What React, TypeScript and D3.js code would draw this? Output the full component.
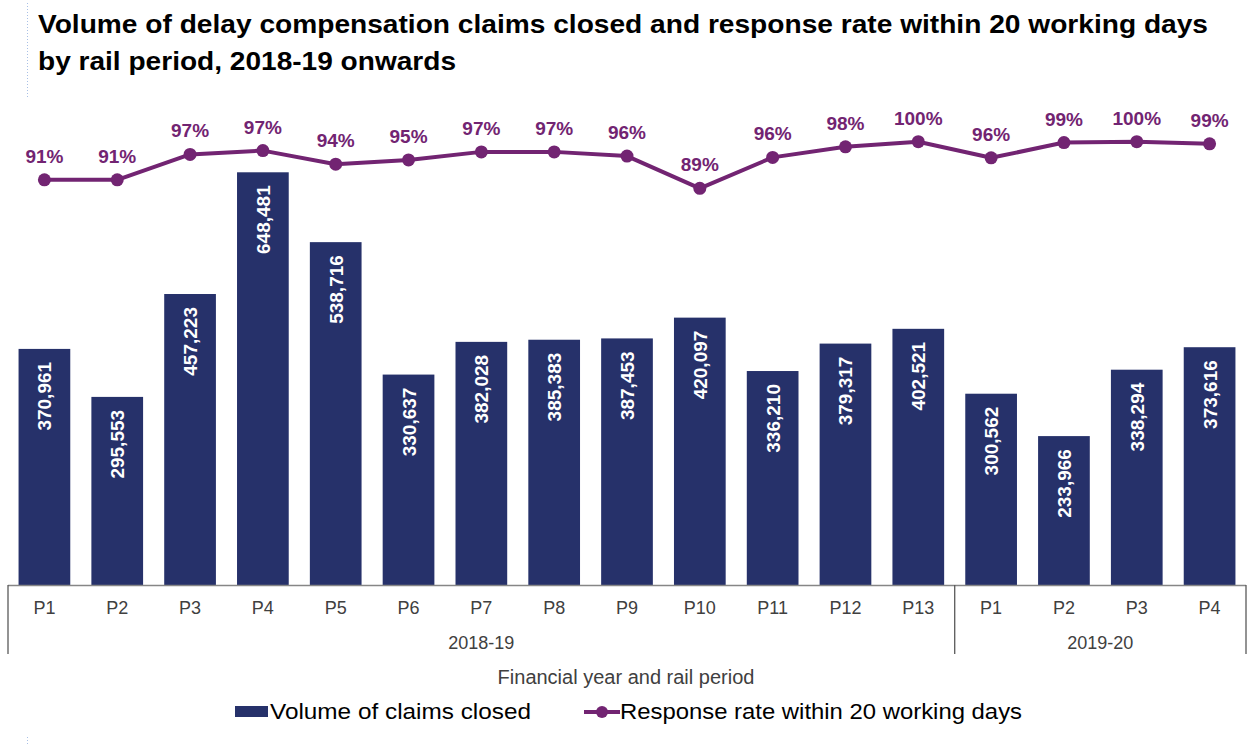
import React, { useEffect, useRef } from 'react'
import * as d3 from 'd3'

// rail periods, grouped by financial year
const periods = ['P1', 'P2', 'P3', 'P4', 'P5', 'P6', 'P7', 'P8', 'P9', 'P10', 'P11', 'P12', 'P13', 'P1', 'P2', 'P3', 'P4']
const years = ['2018-19', '2018-19', '2018-19', '2018-19', '2018-19', '2018-19', '2018-19', '2018-19', '2018-19', '2018-19', '2018-19', '2018-19', '2018-19', '2019-20', '2019-20', '2019-20', '2019-20']
const claimsClosed = [370961, 295553, 457223, 648481, 538716, 330637, 382028, 385383, 387453, 420097, 336210, 379317, 402521, 300562, 233966, 338294, 373616]
const responseRate = [91.0, 91.0, 97.0, 97.9, 94.7, 95.7, 97.6, 97.6, 96.6, 89.0, 96.3, 98.8, 100, 96.2, 99.8, 100, 99.5]

const W = 1248
const H = 746
const BAR = '#26316a'
const LINE = '#722472'
const FONT = '"Liberation Sans", Arial, sans-serif'

const App = () => {
  const svgRef = useRef<SVGSVGElement>(null)

  useEffect(() => {
    document.body.style.margin = '0'
    const svg = d3.select(svgRef.current)
    svg.selectAll('*').remove()

    const margin = { left: 8, right: 2, baseline: 585 }
    const idx = periods.map((_, i) => i)

    const x = d3.scaleBand<number>()
      .domain(idx)
      .range([margin.left, W - margin.right])
      .paddingInner(0.29)
      .paddingOuter(0.145)

    const y = d3.scaleLinear().domain([0, 700000]).range([margin.baseline, 139.5])
    const yRate = d3.scaleLinear().domain([80, 100]).range([226.5, 141.7])

    // title (the source is a bit stretched horizontally)
    const title = svg.append('g')
      .attr('font-family', FONT)
      .attr('font-weight', 'bold')
      .attr('font-size', 25)
      .attr('fill', '#000')
    title.append('text').attr('x', 38).attr('y', 33)
      .attr('textLength', 1170).attr('lengthAdjust', 'spacingAndGlyphs')
      .text('Volume of delay compensation claims closed and response rate within 20 working days')
    title.append('text').attr('x', 38).attr('y', 70)
      .attr('textLength', 418).attr('lengthAdjust', 'spacingAndGlyphs')
      .text('by rail period, 2018-19 onwards')

    svg.append('line')
      .attr('x1', 27.5).attr('x2', 27.5).attr('y1', 3).attr('y2', 97)
      .attr('stroke', '#a9c0e6').attr('stroke-dasharray', '1,2')

    // bars
    svg.append('g')
      .selectAll('rect')
      .data(claimsClosed)
      .join('rect')
      .attr('x', (_, i) => x(i)!)
      .attr('y', (d) => y(d))
      .attr('width', x.bandwidth())
      .attr('height', (d) => y(0) - y(d))
      .attr('fill', BAR)

    const fmt = d3.format(',')
    svg.append('g')
      .selectAll('text')
      .data(claimsClosed)
      .join('text')
      .attr('transform', (d, i) => `translate(${x(i)! + x.bandwidth() / 2 + 7},${y(d) + 13}) rotate(-90)`)
      .attr('text-anchor', 'end')
      .attr('font-family', FONT)
      .attr('font-weight', 'bold')
      .attr('font-size', 19)
      .attr('fill', '#fff')
      .text((d) => fmt(d))

    // response rate line
    const cx = (i: number) => x(i)! + x.bandwidth() / 2
    const line = d3.line<number>().x((_, i) => cx(i)).y((d) => yRate(d))
    svg.append('path')
      .datum(responseRate)
      .attr('d', line)
      .attr('fill', 'none')
      .attr('stroke', LINE)
      .attr('stroke-width', 4)
      .attr('stroke-linejoin', 'round')

    svg.append('g')
      .selectAll('circle')
      .data(responseRate)
      .join('circle')
      .attr('cx', (_, i) => cx(i))
      .attr('cy', (d) => yRate(d))
      .attr('r', 6.5)
      .attr('fill', LINE)

    svg.append('g')
      .selectAll('text')
      .data(responseRate)
      .join('text')
      .attr('x', (_, i) => cx(i))
      .attr('y', (d) => yRate(d) - 17)
      .attr('text-anchor', 'middle')
      .attr('font-family', FONT)
      .attr('font-weight', 'bold')
      .attr('font-size', 19)
      .attr('fill', LINE)
      .text((d) => `${Math.floor(d)}%`)

    // multi-level category axis
    const axis = svg.append('g')
    axis.append('line')
      .attr('x1', margin.left).attr('x2', W - margin.right)
      .attr('y1', margin.baseline + 0.5).attr('y2', margin.baseline + 0.5)
      .attr('stroke', '#868686').attr('stroke-width', 1.5)

    axis.selectAll('text.period')
      .data(periods)
      .join('text')
      .attr('class', 'period')
      .attr('x', (_, i) => cx(i))
      .attr('y', 614)
      .attr('text-anchor', 'middle')
      .attr('font-family', FONT)
      .attr('font-size', 18)
      .attr('fill', '#404040')
      .text((d) => d)

    const groups = d3.groups(idx, (i) => years[i])
    const step = x.step()
    const groupEdges = groups.map(([name, is]) => ({
      name,
      x0: x(is[0])! - step * x.paddingInner() / 2,
      x1: x(is[is.length - 1])! + x.bandwidth() + step * x.paddingInner() / 2,
    }))
    groupEdges[0].x0 = margin.left
    groupEdges[groupEdges.length - 1].x1 = W - margin.right

    const edges = Array.from(new Set(groupEdges.flatMap((g) => [g.x0, g.x1])))
    axis.selectAll('line.sep')
      .data(edges)
      .join('line')
      .attr('class', 'sep')
      .attr('x1', (d) => d).attr('x2', (d) => d)
      .attr('y1', margin.baseline).attr('y2', 654)
      .attr('stroke', '#595959').attr('stroke-width', 1.3)

    axis.selectAll('text.year')
      .data(groupEdges)
      .join('text')
      .attr('class', 'year')
      .attr('x', (d) => (d.x0 + d.x1) / 2)
      .attr('y', 649)
      .attr('text-anchor', 'middle')
      .attr('font-family', FONT)
      .attr('font-size', 18)
      .attr('fill', '#404040')
      .text((d) => d.name)

    svg.append('text')
      .attr('x', 626)
      .attr('y', 684)
      .attr('text-anchor', 'middle')
      .attr('font-family', FONT)
      .attr('font-size', 20)
      .attr('fill', '#404040')
      .text('Financial year and rail period')

    // legend
    const lg = svg.append('g').attr('font-family', FONT).attr('font-size', 22).attr('fill', '#000')
    lg.append('rect').attr('x', 235).attr('y', 706).attr('width', 33).attr('height', 11).attr('fill', BAR)
    lg.append('text').attr('x', 270).attr('y', 719)
      .attr('textLength', 261).attr('lengthAdjust', 'spacingAndGlyphs')
      .text('Volume of claims closed')
    lg.append('line').attr('x1', 584).attr('x2', 620).attr('y1', 712).attr('y2', 712)
      .attr('stroke', LINE).attr('stroke-width', 4)
    lg.append('circle').attr('cx', 602).attr('cy', 712).attr('r', 6).attr('fill', LINE)
    lg.append('text').attr('x', 620).attr('y', 719)
      .attr('textLength', 402).attr('lengthAdjust', 'spacingAndGlyphs')
      .text('Response rate within 20 working days')

    svg.append('line')
      .attr('x1', 27.5).attr('x2', 27.5).attr('y1', 737).attr('y2', 744)
      .attr('stroke', '#a9c0e6').attr('stroke-dasharray', '1,2')
  }, [])

  return <svg ref={svgRef} width={W} height={H} style={{ display: 'block', background: '#fff' }} />
}

export default App
